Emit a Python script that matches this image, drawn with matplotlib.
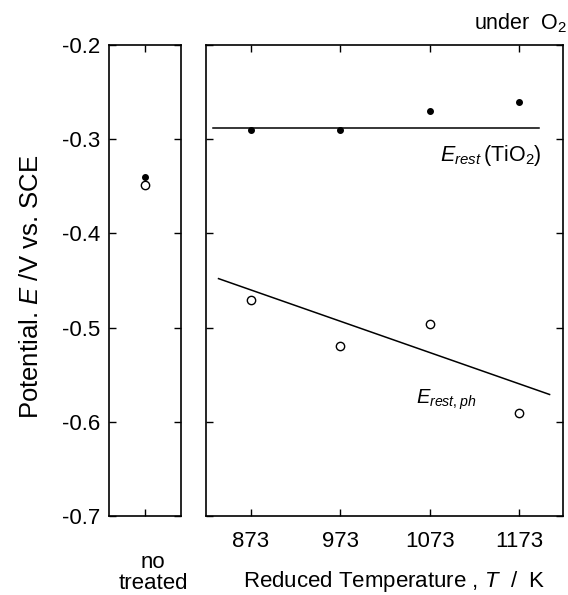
import matplotlib
matplotlib.use("Agg")
import matplotlib.pyplot as plt

plt.rcParams['font.family'] = ['Liberation Sans', 'DejaVu Sans']
plt.rcParams['mathtext.fontset'] = 'custom'
plt.rcParams['mathtext.rm'] = 'Liberation Sans'
plt.rcParams['mathtext.it'] = 'Liberation Sans:italic'
plt.rcParams['mathtext.bf'] = 'Liberation Sans:bold'

# ---- data ----
untreated_rest = [-0.340]
untreated_ph = [-0.349]
temps = [873, 973, 1073, 1173]
E_rest = [-0.290, -0.290, -0.270, -0.261]
E_rest_ph = [-0.471, -0.520, -0.496, -0.591]
rest_line_T = [831, 1195]
rest_line_E = [-0.288, -0.288]
ph_line_T = [837, 1207]
ph_line_E = [-0.448, -0.571]
yticks = [-0.2, -0.3, -0.4, -0.5, -0.6, -0.7]
ytick_labels = ['-0.2', '-0.3', '-0.4', '-0.5', '-0.6', '-0.7']
xtick_labels = ['873', '973', '1073', '1173']

W, H = 568, 595
fig = plt.figure(figsize=(W / 100, H / 100), dpi=100)

def fx(px):
    return px / W

def fy(py):
    return 1 - py / H

top, bot = 45, 516
axL = fig.add_axes([fx(109), fy(bot), fx(180.5) - fx(109), fy(top) - fy(bot)])
axR = fig.add_axes([fx(206), fy(bot), fx(563) - fx(206), fy(top) - fy(bot)])

fs = 16
for ax in (axL, axR):
    ax.set_ylim(-0.7, -0.2)
    ax.set_yticks(yticks)
    for s in ax.spines.values():
        s.set_linewidth(1.2)
    ax.tick_params(direction='in', length=5, width=1.0, top=True, right=True,
                   labelsize=fs)

# left panel
axL.set_xlim(-1, 1)
axL.set_xticks([0])
axL.set_xticklabels([''])
axL.set_yticklabels(ytick_labels)
axL.tick_params(axis='y', pad=6)
axL.plot([0], untreated_rest, 'o', color='black', markersize=4)
axL.plot([0], untreated_ph, 'o', mfc='white', mec='black', markersize=6, mew=1.0)

# right panel
axR.set_xlim(823, 1222)
axR.set_xticks(temps)
axR.set_xticklabels(xtick_labels)
axR.tick_params(axis='x', pad=11)
axR.tick_params(axis='y', labelleft=False)
axR.plot(rest_line_T, rest_line_E, color='black', lw=1.1)
axR.plot(ph_line_T, ph_line_E, color='black', lw=1.1)
axR.plot(temps, E_rest, 'o', color='black', markersize=4, zorder=3)
axR.plot(temps, E_rest_ph, 'o', mfc='white', mec='black', markersize=6, mew=1.0, zorder=3)

axR.text(1198, -0.3235, r'$E_{rest}\,$(TiO$_2$)', ha='right', va='baseline', fontsize=15.5)
axR.text(1058, -0.5811, r'$E_{rest,ph}$', ha='left', va='baseline', fontsize=14.5)

fig.text(fx(567), fy(23), r'under  O$_2$', ha='right', va='center', fontsize=15.5)
fig.text(fx(394), fy(582), r'Reduced Temperature , $T$  /  K', ha='center', va='center', fontsize=16)
fig.text(fx(153), fy(573), 'no\ntreated', ha='center', va='center', fontsize=16, linespacing=1.0)
fig.text(fx(31), fy(287), r'Potential. $E$ /V vs. SCE', rotation=90, ha='center', va='center', fontsize=18.5)

fig.savefig('out.png', dpi=100)
